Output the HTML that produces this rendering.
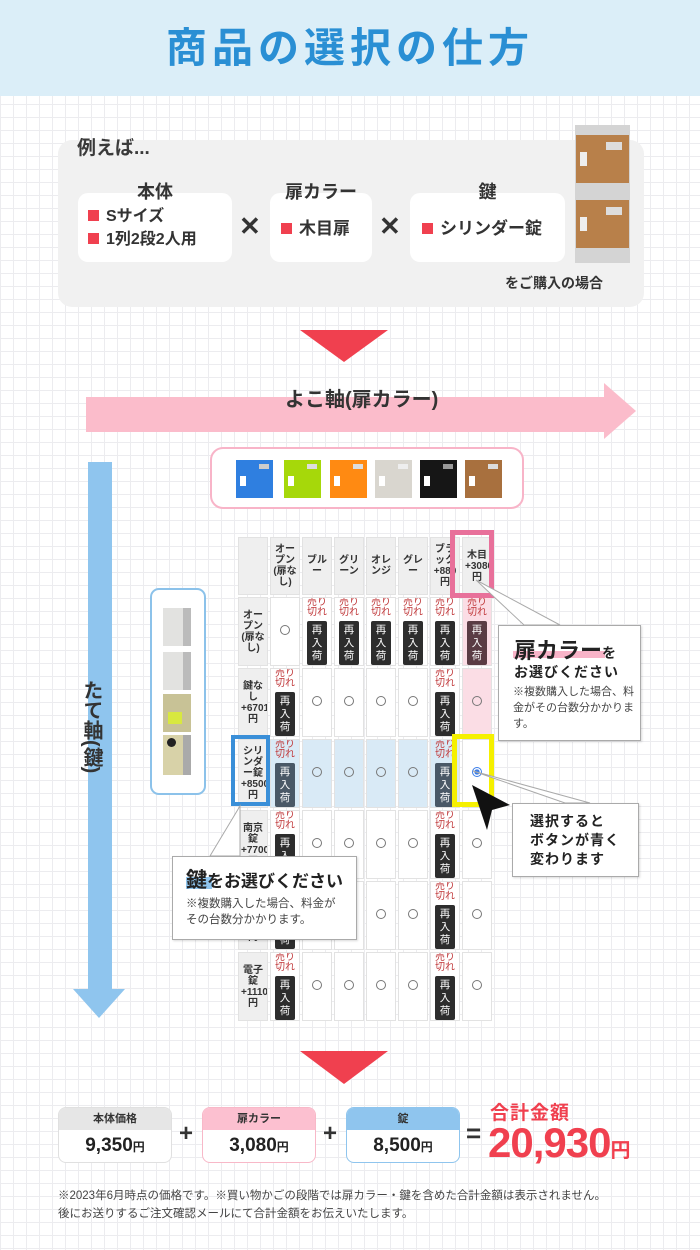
<!DOCTYPE html>
<html><head><meta charset="utf-8">
<style>
*{margin:0;padding:0;box-sizing:border-box}
body{width:700px;height:1250px;position:relative;overflow:hidden;font-family:"Liberation Sans","Noto Sans CJK JP",sans-serif;color:#333;
background-color:#fff;background-image:linear-gradient(#ececef 1px,transparent 1px),linear-gradient(90deg,#ececef 1px,transparent 1px);background-size:13px 13px}
.a{position:absolute}
.b{font-weight:bold}
.wb{background:#fff;border-radius:10px}
.sq{display:inline-block;width:11px;height:11px;background:#f0404f;margin-right:7px;vertical-align:0px}
table.t{position:absolute;left:236px;top:535px;border-collapse:separate;border-spacing:2px;table-layout:fixed}
table.t td{width:30px;max-width:30px;background:#fff;border:1px solid #e2e2e2;text-align:center;vertical-align:middle;font-size:10px;line-height:11px;padding:0 2px;box-sizing:border-box;overflow:hidden}
table.t tr.h td{height:58px;background:#efefef;font-weight:bold;font-size:10px}
table.t tr.r td{height:68px}
table.t td.rh{background:#efefef;font-weight:bold;font-size:10px}
.so{color:#c0393b;font-size:10px;line-height:10px;margin:0 auto 3px;width:21px}
.ri{width:20px;height:44px;background:#2d2d2d;color:#fff;font-size:10.5px;line-height:13px;margin:0 auto;border-radius:2px;padding-top:3px}
.c{display:inline-block;width:10px;height:10px;border:1px solid #777;border-radius:50%}
.pk{background:#fbdde5!important}
.bl{background:#d9eaf6!important}
.co{background:#fff;border:1px solid #aaa;box-shadow:1px 1px 2px rgba(0,0,0,.15)}
.pb{border-radius:8px;overflow:hidden;background:#fff;text-align:center}
.pb .hd{height:22px;font-size:11px;font-weight:bold;line-height:22px;color:#333}
.pb .v{font-size:19px;font-weight:bold;line-height:32px;color:#222}
.pb .v small{font-size:12px}
</style></head><body>

<div class="a" style="left:0;top:0;width:700px;height:96px;background:#dbeef8"></div>
<div class="a b" style="left:0;top:23px;width:700px;text-align:center;font-size:41px;letter-spacing:5px;color:#2a8fd4;line-height:50px">商品の選択の仕方</div>

<div class="a" style="left:58px;top:140px;width:586px;height:167px;background:#f1f1f1;border-radius:14px"></div>
<div class="a b" style="left:77px;top:133px;font-size:19px;color:#3a3a3a">例えば...</div>
<div class="a wb" style="left:78px;top:193px;width:154px;height:69px"></div>
<div class="a wb" style="left:270px;top:193px;width:102px;height:69px"></div>
<div class="a wb" style="left:410px;top:193px;width:155px;height:69px"></div>
<div class="a b" style="left:78px;top:178px;width:154px;text-align:center;font-size:18px">本体</div>
<div class="a b" style="left:270px;top:178px;width:102px;text-align:center;font-size:18px">扉カラー</div>
<div class="a b" style="left:410px;top:178px;width:155px;text-align:center;font-size:18px">鍵</div>
<div class="a b" style="left:88px;top:205px;font-size:16px;line-height:23px"><span class="sq"></span>Sサイズ<br><span class="sq"></span>1列2段2人用</div>
<div class="a b" style="left:281px;top:214px;font-size:17px"><span class="sq"></span>木目扉</div>
<div class="a b" style="left:422px;top:214px;font-size:17px"><span class="sq"></span>シリンダー錠</div>
<div class="a b" style="left:239px;top:211px;font-size:26px">✕</div>
<div class="a b" style="left:379px;top:211px;font-size:26px">✕</div>
<div class="a b" style="left:505px;top:273px;font-size:14px">をご購入の場合</div>
<div class="a" style="left:575px;top:125px;width:55px;height:138px;background:#d4d4d4"></div>
<div class="a" style="left:576px;top:135px;width:53px;height:48px;background:#b8804a"></div>
<div class="a" style="left:576px;top:200px;width:53px;height:48px;background:#b8804a"></div>
<div class="a" style="left:606px;top:142px;width:16px;height:8px;background:#ddd"></div>
<div class="a" style="left:606px;top:207px;width:16px;height:8px;background:#ddd"></div>
<div class="a" style="left:580px;top:152px;width:7px;height:14px;background:#eee"></div>
<div class="a" style="left:580px;top:217px;width:7px;height:14px;background:#eee"></div>

<div class="a" style="left:300px;top:330px;width:0;height:0;border-left:44px solid transparent;border-right:44px solid transparent;border-top:32px solid #f0404f"></div>

<div class="a" style="left:86px;top:397px;width:522px;height:35px;background:#fbbccb"></div>
<div class="a" style="left:604px;top:383px;width:0;height:0;border-top:28px solid transparent;border-bottom:28px solid transparent;border-left:32px solid #fbbccb"></div>
<div class="a b" style="left:285px;top:383px;font-size:20px;color:#333">よこ軸(扉カラー)</div>

<div class="a" style="left:88px;top:462px;width:24px;height:530px;background:#8fc5ee"></div>
<div class="a" style="left:73px;top:989px;width:0;height:0;border-left:26px solid transparent;border-right:26px solid transparent;border-top:29px solid #8fc5ee"></div>
<div class="a b" style="left:78px;top:680px;width:24px;font-size:20px;line-height:22px;writing-mode:vertical-rl;color:#333">たて軸(鍵)</div>

<div class="a" style="left:210px;top:447px;width:314px;height:62px;border:2px solid #f8b4c8;border-radius:13px;background:#fff"></div>
<div class="a" style="left:236px;top:460px;width:37px;height:38px;background:#2f7fe0"></div>
<div class="a" style="left:284px;top:460px;width:37px;height:38px;background:#a6d80a"></div>
<div class="a" style="left:330px;top:460px;width:37px;height:38px;background:#ff8a12"></div>
<div class="a" style="left:375px;top:460px;width:37px;height:38px;background:#d9d6cf"></div>
<div class="a" style="left:420px;top:460px;width:37px;height:38px;background:#161616"></div>
<div class="a" style="left:465px;top:460px;width:37px;height:38px;background:#a8703e"></div>
<div class="a" style="left:240px;top:476px;width:6px;height:10px;background:#fff"></div>
<div class="a" style="left:288px;top:476px;width:6px;height:10px;background:#fff"></div>
<div class="a" style="left:334px;top:476px;width:6px;height:10px;background:#fff"></div>
<div class="a" style="left:379px;top:476px;width:6px;height:10px;background:#fff"></div>
<div class="a" style="left:424px;top:476px;width:6px;height:10px;background:#fff"></div>
<div class="a" style="left:469px;top:476px;width:6px;height:10px;background:#fff"></div>
<div class="a" style="left:259px;top:464px;width:10px;height:5px;background:#ccc"></div>
<div class="a" style="left:307px;top:464px;width:10px;height:5px;background:#ddd"></div>
<div class="a" style="left:353px;top:464px;width:10px;height:5px;background:#ddd"></div>
<div class="a" style="left:398px;top:464px;width:10px;height:5px;background:#eee"></div>
<div class="a" style="left:443px;top:464px;width:10px;height:5px;background:#999"></div>
<div class="a" style="left:488px;top:464px;width:10px;height:5px;background:#ddd"></div>

<div class="a" style="left:150px;top:588px;width:56px;height:207px;border:2px solid #8cc2ea;border-radius:9px;background:#fff"></div>
<div class="a" style="left:163px;top:608px;width:28px;height:38px;background:#e2e2e0;border-right:8px solid #bbb"></div>
<div class="a" style="left:163px;top:652px;width:28px;height:38px;background:#e2e2e0;border-right:8px solid #bbb"></div>
<div class="a" style="left:163px;top:694px;width:28px;height:38px;background:#c8c296"></div>
<div class="a" style="left:168px;top:712px;width:14px;height:12px;background:#d8e840"></div>
<div class="a" style="left:163px;top:735px;width:28px;height:40px;background:#d8d2a8;border-right:8px solid #aaa"></div>
<div class="a" style="left:167px;top:738px;width:9px;height:9px;background:#222;border-radius:50%"></div>

<table class="t">
<tr class="h"><td></td><td>オープン(扉なし)</td><td>ブルー</td><td>グリーン</td><td>オレンジ</td><td>グレー</td><td>ブラック+880円</td><td>木目+3080円</td></tr>
<tr class="r"><td class="rh">オープン(扉なし)</td><td><span class="c"></span></td>
<td><div class="so">売り切れ</div><div class="ri">再入荷</div></td><td><div class="so">売り切れ</div><div class="ri">再入荷</div></td><td><div class="so">売り切れ</div><div class="ri">再入荷</div></td><td><div class="so">売り切れ</div><div class="ri">再入荷</div></td><td><div class="so">売り切れ</div><div class="ri">再入荷</div></td><td class="pk"><div class="so">売り切れ</div><div class="ri" style="background:#5a3c44">再入荷</div></td></tr>
<tr class="r"><td class="rh">鍵なし+6701円</td><td><div class="so">売り切れ</div><div class="ri">再入荷</div></td><td><span class="c"></span></td><td><span class="c"></span></td><td><span class="c"></span></td><td><span class="c"></span></td><td><div class="so">売り切れ</div><div class="ri">再入荷</div></td><td class="pk"><span class="c"></span></td></tr>
<tr class="r"><td class="rh">シリンダー錠+8500円</td><td class="bl"><div class="so">売り切れ</div><div class="ri" style="background:#4a5866">再入荷</div></td><td class="bl"><span class="c"></span></td><td class="bl"><span class="c"></span></td><td class="bl"><span class="c"></span></td><td class="bl"><span class="c"></span></td><td class="bl"><div class="so">売り切れ</div><div class="ri" style="background:#4a5866">再入荷</div></td><td><span class="c" style="border-color:#3a7de8;background:radial-gradient(#3a7de8 45%,#fff 50%)"></span></td></tr>
<tr class="r"><td class="rh">南京錠+7700円</td><td><div class="so">売り切れ</div><div class="ri">再入荷</div></td><td><span class="c"></span></td><td><span class="c"></span></td><td><span class="c"></span></td><td><span class="c"></span></td><td><div class="so">売り切れ</div><div class="ri">再入荷</div></td><td><span class="c"></span></td></tr>
<tr class="r"><td class="rh">ダイヤル錠+9900円</td><td><div class="so">売り切れ</div><div class="ri">再入荷</div></td><td><span class="c"></span></td><td><span class="c"></span></td><td><span class="c"></span></td><td><span class="c"></span></td><td><div class="so">売り切れ</div><div class="ri">再入荷</div></td><td><span class="c"></span></td></tr>
<tr class="r"><td class="rh">電子錠+11101円</td><td><div class="so">売り切れ</div><div class="ri">再入荷</div></td><td><span class="c"></span></td><td><span class="c"></span></td><td><span class="c"></span></td><td><span class="c"></span></td><td><div class="so">売り切れ</div><div class="ri">再入荷</div></td><td><span class="c"></span></td></tr>
</table>

<div class="a" style="left:450px;top:530px;width:44px;height:68px;border:5px solid #e8709a"></div>
<div class="a" style="left:231px;top:735px;width:39px;height:71px;border:4px solid #3a8fd8"></div>
<div class="a" style="left:452px;top:734px;width:42px;height:73px;border:5px solid #f5f000"></div>

<svg class="a" style="left:0;top:0" width="700" height="1250">
<polygon points="476,580 524,625 560,625" fill="#fff" stroke="#aaa"/>
<polygon points="473,771 565,803 590,803" fill="#fff" stroke="#aaa"/>
<polygon points="240,806 210,856 240,856" fill="#fff" stroke="#aaa"/>
<polygon points="472,785 510,805 492,810 487,830" fill="#111"/>
</svg>

<div class="a co" style="left:498px;top:625px;width:143px;height:116px"></div>
<div class="a" style="left:513px;top:651px;width:92px;height:7px;background:#f8b4c8"></div>
<div class="a b" style="left:514px;top:633px;font-size:22px;color:#222">扉カラー<span style="font-size:14px">を</span></div>
<div class="a b" style="left:514px;top:662px;font-size:14px;letter-spacing:1px;color:#222">お選びください</div>
<div class="a" style="left:513px;top:684px;width:122px;font-size:11px;line-height:16px;color:#444">※複数購入した場合、料金がその台数分かかります。</div>

<div class="a co" style="left:512px;top:803px;width:127px;height:74px"></div>
<div class="a b" style="left:530px;top:812px;font-size:14px;line-height:19px;color:#222;letter-spacing:1px">選択すると<br>ボタンが青く<br>変わります</div>

<div class="a co" style="left:172px;top:856px;width:185px;height:84px"></div>
<div class="a" style="left:186px;top:877px;width:26px;height:12px;background:#8fc5ee"></div>
<div class="a b" style="left:186px;top:864px;font-size:17px;color:#222"><span style="font-size:21px">鍵</span>をお選びください</div>
<div class="a" style="left:186px;top:896px;width:165px;font-size:11.5px;line-height:16px;color:#444">※複数購入した場合、料金が<br>その台数分かかります。</div>

<div class="a" style="left:300px;top:1051px;width:0;height:0;border-left:44px solid transparent;border-right:44px solid transparent;border-top:33px solid #f0404f"></div>

<div class="a pb" style="left:58px;top:1107px;width:114px;height:56px;border:1px solid #e0e0e0"><div class="hd" style="background:#e6e6e6">本体価格</div><div class="v">9,350<small>円</small></div></div>
<div class="a b" style="left:179px;top:1120px;font-size:24px">+</div>
<div class="a pb" style="left:202px;top:1107px;width:114px;height:56px;border:1px solid #f8b8c8"><div class="hd" style="background:#fcc0d0">扉カラー</div><div class="v">3,080<small>円</small></div></div>
<div class="a b" style="left:323px;top:1120px;font-size:24px">+</div>
<div class="a pb" style="left:346px;top:1107px;width:114px;height:56px;border:1px solid #8fc5ee"><div class="hd" style="background:#8fc5ee">錠</div><div class="v">8,500<small>円</small></div></div>
<div class="a b" style="left:466px;top:1118px;font-size:26px">=</div>
<div class="a b" style="left:490px;top:1098px;font-size:19px;color:#f0404f;letter-spacing:1px">合計金額</div>
<div class="a b" style="left:488px;top:1118px;font-size:42px;color:#f0404f;letter-spacing:-1px;line-height:50px">20,930<span style="font-size:20px">円</span></div>

<div class="a" style="left:58px;top:1187px;font-size:11.5px;line-height:18px;color:#444">※2023年6月時点の価格です。※買い物かごの段階では扉カラー・鍵を含めた合計金額は表示されません。<br>後にお送りするご注文確認メールにて合計金額をお伝えいたします。</div>
</body></html>
